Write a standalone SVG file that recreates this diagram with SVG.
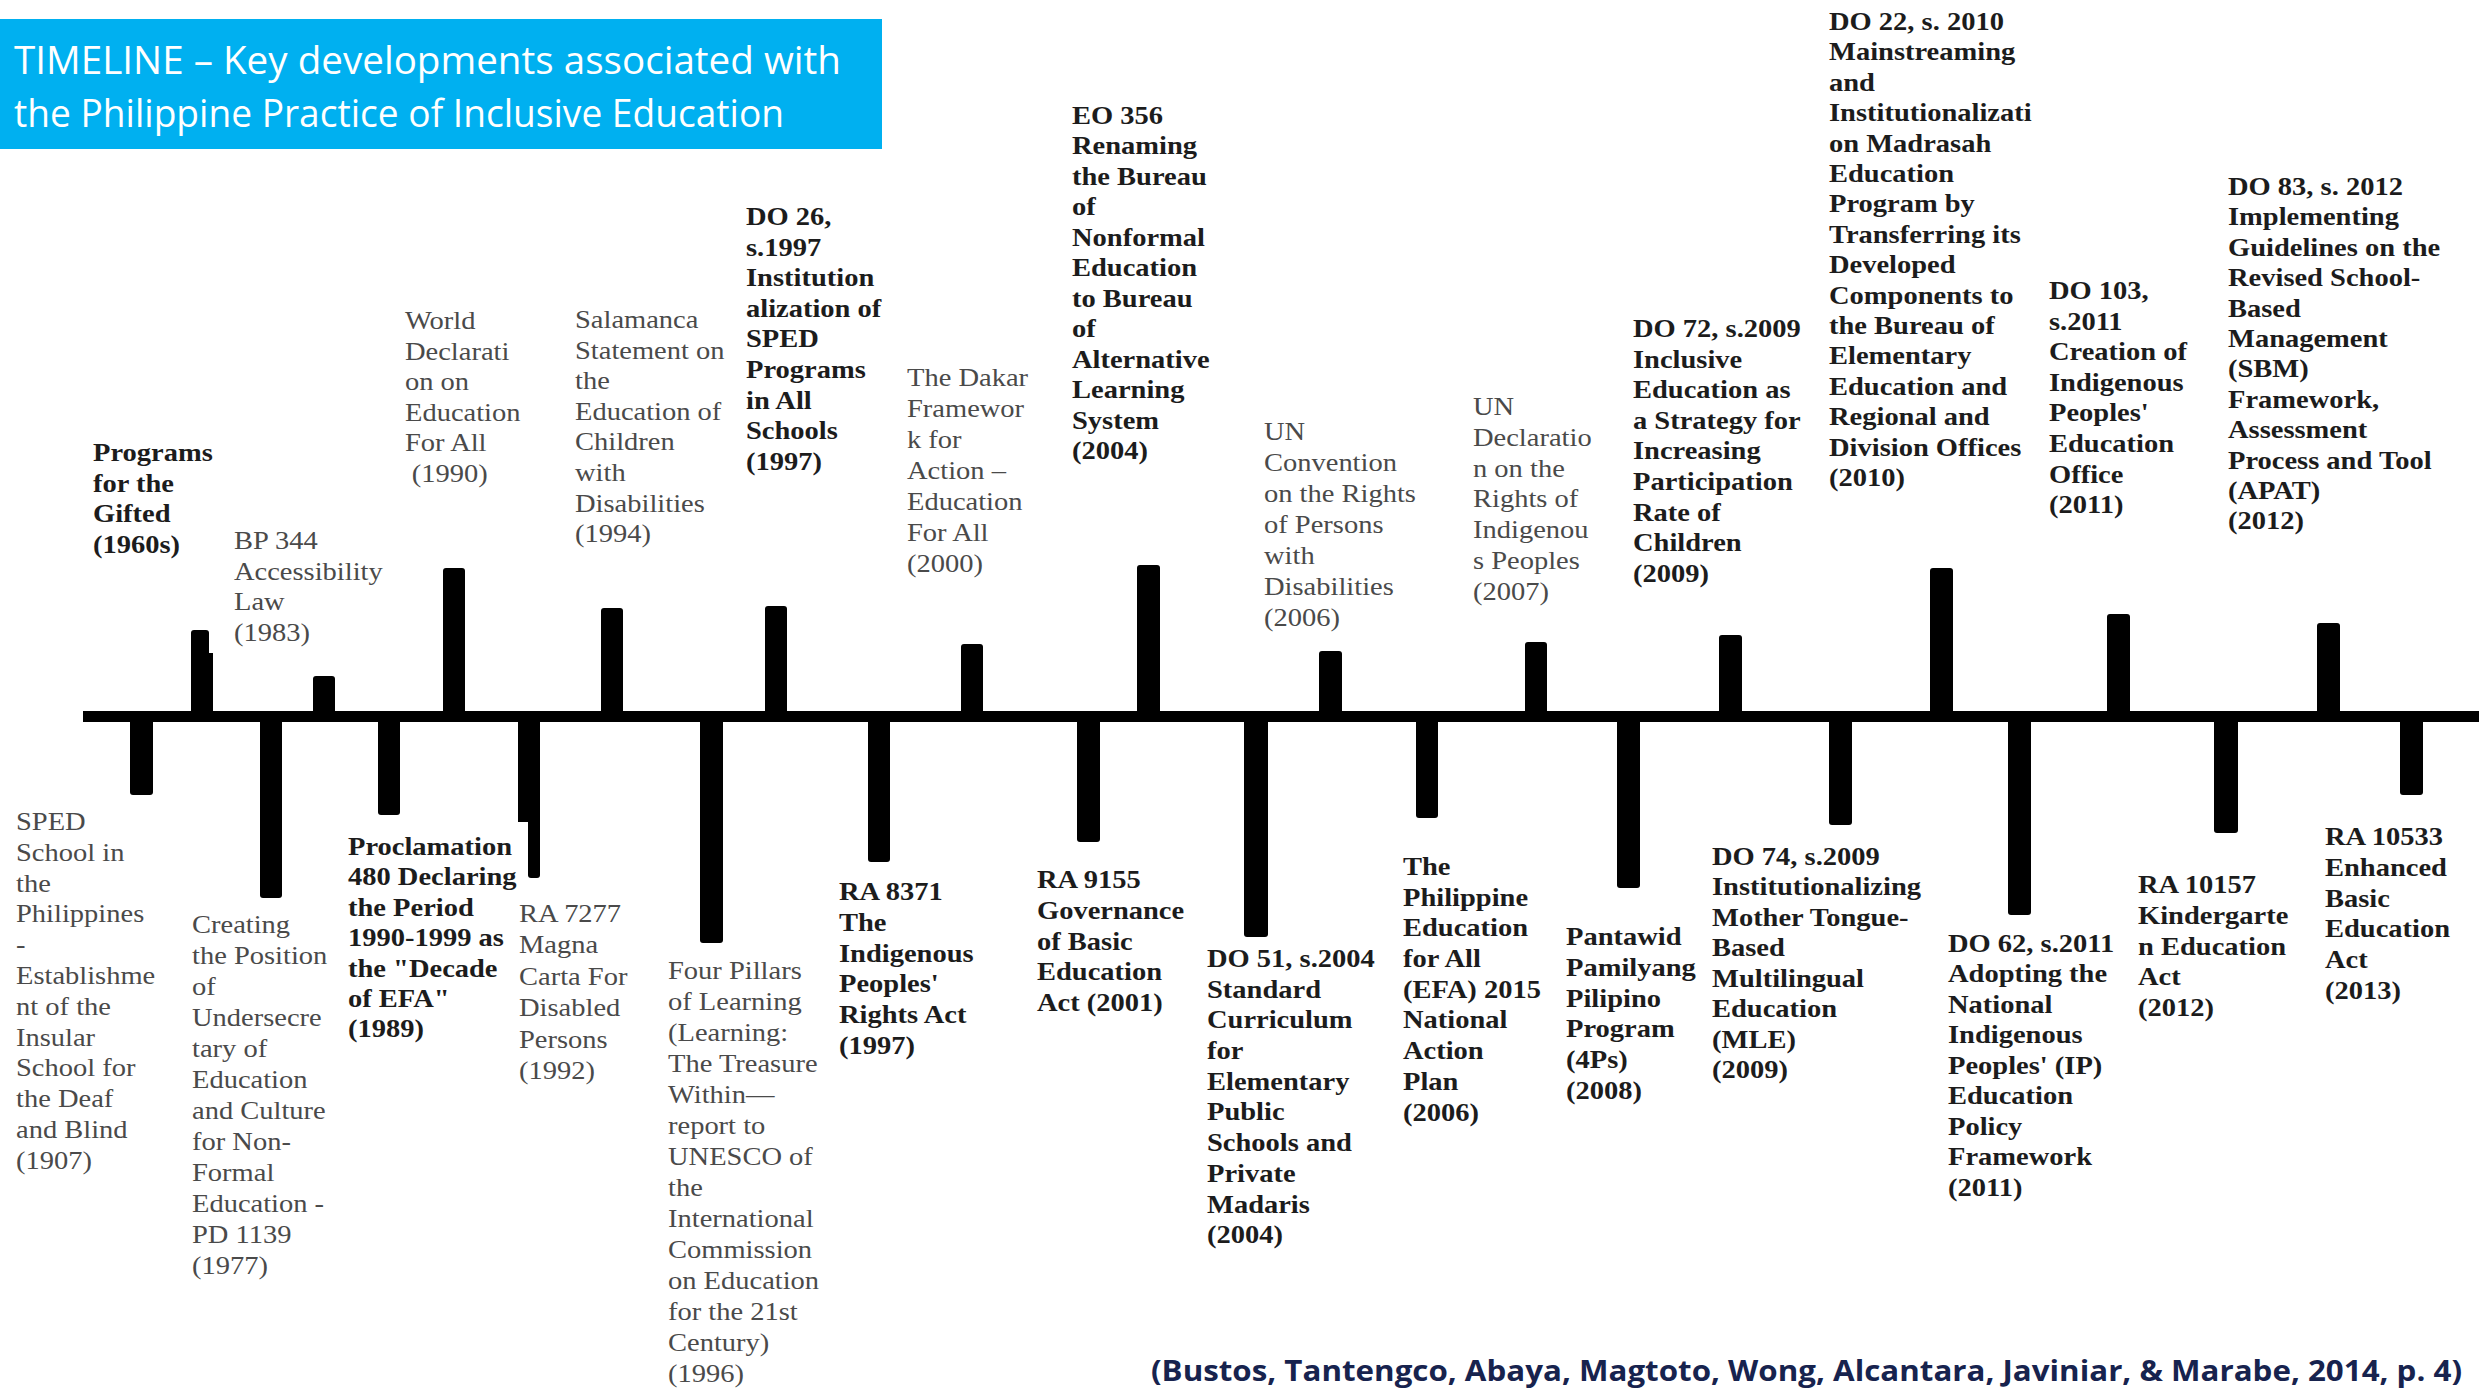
<svg xmlns="http://www.w3.org/2000/svg" width="2483" height="1397" viewBox="0 0 2483 1397">
  <style>
    .tick { fill: #000; }
    .r { font-family: "Liberation Serif", "Times New Roman", serif; font-size: 25px; fill: #4a4a4a; }
    .b { font-family: "Liberation Serif", "Times New Roman", serif; font-size: 25px; font-weight: bold; fill: #1c1c1c; }
    .title { font-family: "Open Sans", "Noto Sans", sans-serif; font-size: 39px; fill: #fff; }
    .cite { font-family: "Open Sans", "Noto Sans", sans-serif; font-size: 29px; font-weight: bold; fill: #17234e; }
  </style>
  <rect width="2483" height="1397" fill="#fff"/>

  <!-- heading banner -->
  <g id="heading">
    <rect x="0" y="19" width="882" height="130" fill="#00b0f0"/>
    <text class="title" x="14" y="74" textLength="827" lengthAdjust="spacingAndGlyphs">TIMELINE – Key developments associated with</text>
    <text class="title" x="14" y="127" textLength="770" lengthAdjust="spacingAndGlyphs">the Philippine Practice of Inclusive Education</text>
  </g>

  <!-- time axis -->
  <g id="connectors">
    <rect class="tick" x="83" y="711" width="2396" height="11"/>
  </g>

  <!-- events above the axis -->
  <g id="gifted">
    <rect class="tick" x="191" y="630" width="18" height="86" rx="3"/>
    <rect class="tick" x="191" y="653" width="22" height="63"/>
    <text class="b" transform="translate(93,461) scale(1.14,1)"><tspan x="0" y="0">Programs</tspan><tspan x="0" dy="30.6">for the</tspan><tspan x="0" dy="30.6">Gifted</tspan><tspan x="0" dy="30.6">(1960s)</tspan></text>
  </g>
  <g id="bp344">
    <rect class="tick" x="313" y="676" width="22" height="40" rx="3"/>
    <text class="r" transform="translate(234,549) scale(1.14,1)"><tspan x="0" y="0">BP 344</tspan><tspan x="0" dy="30.6">Accessibility</tspan><tspan x="0" dy="30.6">Law</tspan><tspan x="0" dy="30.6">(1983)</tspan></text>
  </g>
  <g id="world-declaration">
    <rect class="tick" x="443" y="568" width="22" height="148" rx="3"/>
    <text class="r" transform="translate(405,329) scale(1.14,1)"><tspan x="0" y="0">World</tspan><tspan x="0" dy="30.6">Declarati</tspan><tspan x="0" dy="30.6">on on</tspan><tspan x="0" dy="30.6">Education</tspan><tspan x="0" dy="30.6">For All</tspan><tspan x="6" dy="30.6">(1990)</tspan></text>
  </g>
  <g id="salamanca">
    <rect class="tick" x="601" y="608" width="22" height="108" rx="3"/>
    <text class="r" transform="translate(575,328) scale(1.14,1)"><tspan x="0" y="0">Salamanca</tspan><tspan x="0" dy="30.6">Statement on</tspan><tspan x="0" dy="30.6">the</tspan><tspan x="0" dy="30.6">Education of</tspan><tspan x="0" dy="30.6">Children</tspan><tspan x="0" dy="30.6">with</tspan><tspan x="0" dy="30.6">Disabilities</tspan><tspan x="0" dy="30.6">(1994)</tspan></text>
  </g>
  <g id="do26">
    <rect class="tick" x="765" y="606" width="22" height="110" rx="3"/>
    <text class="b" transform="translate(746,225) scale(1.14,1)"><tspan x="0" y="0">DO 26,</tspan><tspan x="0" dy="30.6">s.1997</tspan><tspan x="0" dy="30.6">Institution</tspan><tspan x="0" dy="30.6">alization of</tspan><tspan x="0" dy="30.6">SPED</tspan><tspan x="0" dy="30.6">Programs</tspan><tspan x="0" dy="30.6">in All</tspan><tspan x="0" dy="30.6">Schools</tspan><tspan x="0" dy="30.6">(1997)</tspan></text>
  </g>
  <g id="dakar">
    <rect class="tick" x="961" y="644" width="22" height="72" rx="3"/>
    <text class="r" transform="translate(907,386) scale(1.14,1)"><tspan x="0" y="0">The Dakar</tspan><tspan x="0" dy="31">Framewor</tspan><tspan x="0" dy="31">k for</tspan><tspan x="0" dy="31">Action –</tspan><tspan x="0" dy="31">Education</tspan><tspan x="0" dy="31">For All</tspan><tspan x="0" dy="31">(2000)</tspan></text>
  </g>
  <g id="eo356">
    <rect class="tick" x="1137" y="565" width="23" height="151" rx="3"/>
    <text class="b" transform="translate(1072,124) scale(1.14,1)"><tspan x="0" y="0">EO 356</tspan><tspan x="0" dy="30.5">Renaming</tspan><tspan x="0" dy="30.5">the Bureau</tspan><tspan x="0" dy="30.5">of</tspan><tspan x="0" dy="30.5">Nonformal</tspan><tspan x="0" dy="30.5">Education</tspan><tspan x="0" dy="30.5">to Bureau</tspan><tspan x="0" dy="30.5">of</tspan><tspan x="0" dy="30.5">Alternative</tspan><tspan x="0" dy="30.5">Learning</tspan><tspan x="0" dy="30.5">System</tspan><tspan x="0" dy="30.5">(2004)</tspan></text>
  </g>
  <g id="un-crpd">
    <rect class="tick" x="1319" y="651" width="23" height="65" rx="3"/>
    <text class="r" transform="translate(1264,440) scale(1.14,1)"><tspan x="0" y="0">UN</tspan><tspan x="0" dy="31">Convention</tspan><tspan x="0" dy="31">on the Rights</tspan><tspan x="0" dy="31">of Persons</tspan><tspan x="0" dy="31">with</tspan><tspan x="0" dy="31">Disabilities</tspan><tspan x="0" dy="31">(2006)</tspan></text>
  </g>
  <g id="un-drip">
    <rect class="tick" x="1525" y="642" width="22" height="74" rx="3"/>
    <text class="r" transform="translate(1473,415) scale(1.14,1)"><tspan x="0" y="0">UN</tspan><tspan x="0" dy="30.8">Declaratio</tspan><tspan x="0" dy="30.8">n on the</tspan><tspan x="0" dy="30.8">Rights of</tspan><tspan x="0" dy="30.8">Indigenou</tspan><tspan x="0" dy="30.8">s Peoples</tspan><tspan x="0" dy="30.8">(2007)</tspan></text>
  </g>
  <g id="do72">
    <rect class="tick" x="1719" y="635" width="23" height="81" rx="3"/>
    <text class="b" transform="translate(1633,337) scale(1.14,1)"><tspan x="0" y="0">DO 72, s.2009</tspan><tspan x="0" dy="30.6">Inclusive</tspan><tspan x="0" dy="30.6">Education as</tspan><tspan x="0" dy="30.6">a Strategy for</tspan><tspan x="0" dy="30.6">Increasing</tspan><tspan x="0" dy="30.6">Participation</tspan><tspan x="0" dy="30.6">Rate of</tspan><tspan x="0" dy="30.6">Children</tspan><tspan x="0" dy="30.6">(2009)</tspan></text>
  </g>
  <g id="do22">
    <rect class="tick" x="1930" y="568" width="23" height="148" rx="3"/>
    <text class="b" transform="translate(1829,30) scale(1.14,1)"><tspan x="0" y="0">DO 22, s. 2010</tspan><tspan x="0" dy="30.4">Mainstreaming</tspan><tspan x="0" dy="30.4">and</tspan><tspan x="0" dy="30.4">Institutionalizati</tspan><tspan x="0" dy="30.4">on Madrasah</tspan><tspan x="0" dy="30.4">Education</tspan><tspan x="0" dy="30.4">Program by</tspan><tspan x="0" dy="30.4">Transferring its</tspan><tspan x="0" dy="30.4">Developed</tspan><tspan x="0" dy="30.4">Components to</tspan><tspan x="0" dy="30.4">the Bureau of</tspan><tspan x="0" dy="30.4">Elementary</tspan><tspan x="0" dy="30.4">Education and</tspan><tspan x="0" dy="30.4">Regional and</tspan><tspan x="0" dy="30.4">Division Offices</tspan><tspan x="0" dy="30.4">(2010)</tspan></text>
  </g>
  <g id="do103">
    <rect class="tick" x="2107" y="614" width="23" height="102" rx="3"/>
    <text class="b" transform="translate(2049,299) scale(1.14,1)"><tspan x="0" y="0">DO 103,</tspan><tspan x="0" dy="30.6">s.2011</tspan><tspan x="0" dy="30.6">Creation of</tspan><tspan x="0" dy="30.6">Indigenous</tspan><tspan x="0" dy="30.6">Peoples'</tspan><tspan x="0" dy="30.6">Education</tspan><tspan x="0" dy="30.6">Office</tspan><tspan x="0" dy="30.6">(2011)</tspan></text>
  </g>
  <g id="do83">
    <rect class="tick" x="2317" y="623" width="23" height="93" rx="3"/>
    <text class="b" transform="translate(2228,195) scale(1.14,1)"><tspan x="0" y="0">DO 83, s. 2012</tspan><tspan x="0" dy="30.4">Implementing</tspan><tspan x="0" dy="30.4">Guidelines on the</tspan><tspan x="0" dy="30.4">Revised School-</tspan><tspan x="0" dy="30.4">Based</tspan><tspan x="0" dy="30.4">Management</tspan><tspan x="0" dy="30.4">(SBM)</tspan><tspan x="0" dy="30.4">Framework,</tspan><tspan x="0" dy="30.4">Assessment</tspan><tspan x="0" dy="30.4">Process and Tool</tspan><tspan x="0" dy="30.4">(APAT)</tspan><tspan x="0" dy="30.4">(2012)</tspan></text>
  </g>

  <!-- events below the axis -->
  <g id="sped-school">
    <rect class="tick" x="130" y="716" width="23" height="79" rx="3"/>
    <text class="r" transform="translate(16,830) scale(1.14,1)"><tspan x="0" y="0">SPED</tspan><tspan x="0" dy="30.8">School in</tspan><tspan x="0" dy="30.8">the</tspan><tspan x="0" dy="30.8">Philippines</tspan><tspan x="0" dy="30.8">-</tspan><tspan x="0" dy="30.8">Establishme</tspan><tspan x="0" dy="30.8">nt of the</tspan><tspan x="0" dy="30.8">Insular</tspan><tspan x="0" dy="30.8">School for</tspan><tspan x="0" dy="30.8">the Deaf</tspan><tspan x="0" dy="30.8">and Blind</tspan><tspan x="0" dy="30.8">(1907)</tspan></text>
  </g>
  <g id="pd1139">
    <rect class="tick" x="260" y="716" width="22" height="182" rx="3"/>
    <text class="r" transform="translate(192,933) scale(1.14,1)"><tspan x="0" y="0">Creating</tspan><tspan x="0" dy="31">the Position</tspan><tspan x="0" dy="31">of</tspan><tspan x="0" dy="31">Undersecre</tspan><tspan x="0" dy="31">tary of</tspan><tspan x="0" dy="31">Education</tspan><tspan x="0" dy="31">and Culture</tspan><tspan x="0" dy="31">for Non-</tspan><tspan x="0" dy="31">Formal</tspan><tspan x="0" dy="31">Education -</tspan><tspan x="0" dy="31">PD 1139</tspan><tspan x="0" dy="31">(1977)</tspan></text>
  </g>
  <g id="proclamation480">
    <rect class="tick" x="378" y="716" width="22" height="99" rx="3"/>
    <text class="b" transform="translate(348,855) scale(1.14,1)"><tspan x="0" y="0">Proclamation</tspan><tspan x="0" dy="30.4">480 Declaring</tspan><tspan x="0" dy="30.4">the Period</tspan><tspan x="0" dy="30.4">1990-1999 as</tspan><tspan x="0" dy="30.4">the &quot;Decade</tspan><tspan x="0" dy="30.4">of EFA&quot;</tspan><tspan x="0" dy="30.4">(1989)</tspan></text>
  </g>
  <g id="ra7277">
    <rect class="tick" x="518" y="716" width="22" height="106"/>
    <rect class="tick" x="528" y="716" width="12" height="162" rx="3"/>
    <text class="r" transform="translate(519,922) scale(1.14,1)"><tspan x="0" y="0">RA 7277</tspan><tspan x="0" dy="31.4">Magna</tspan><tspan x="0" dy="31.4">Carta For</tspan><tspan x="0" dy="31.4">Disabled</tspan><tspan x="0" dy="31.4">Persons</tspan><tspan x="0" dy="31.4">(1992)</tspan></text>
  </g>
  <g id="four-pillars">
    <rect class="tick" x="700" y="716" width="23" height="227" rx="3"/>
    <text class="r" transform="translate(668,979) scale(1.14,1)"><tspan x="0" y="0">Four Pillars</tspan><tspan x="0" dy="31">of Learning</tspan><tspan x="0" dy="31">(Learning:</tspan><tspan x="0" dy="31">The Treasure</tspan><tspan x="0" dy="31">Within—</tspan><tspan x="0" dy="31">report to</tspan><tspan x="0" dy="31">UNESCO of</tspan><tspan x="0" dy="31">the</tspan><tspan x="0" dy="31">International</tspan><tspan x="0" dy="31">Commission</tspan><tspan x="0" dy="31">on Education</tspan><tspan x="0" dy="31">for the 21st</tspan><tspan x="0" dy="31">Century)</tspan><tspan x="0" dy="31">(1996)</tspan></text>
  </g>
  <g id="ra8371">
    <rect class="tick" x="868" y="716" width="22" height="146" rx="3"/>
    <text class="b" transform="translate(839,900) scale(1.14,1)"><tspan x="0" y="0">RA 8371</tspan><tspan x="0" dy="30.8">The</tspan><tspan x="0" dy="30.8">Indigenous</tspan><tspan x="0" dy="30.8">Peoples'</tspan><tspan x="0" dy="30.8">Rights Act</tspan><tspan x="0" dy="30.8">(1997)</tspan></text>
  </g>
  <g id="ra9155">
    <rect class="tick" x="1077" y="716" width="23" height="126" rx="3"/>
    <text class="b" transform="translate(1037,888) scale(1.14,1)"><tspan x="0" y="0">RA 9155</tspan><tspan x="0" dy="30.8">Governance</tspan><tspan x="0" dy="30.8">of Basic</tspan><tspan x="0" dy="30.8">Education</tspan><tspan x="0" dy="30.8">Act (2001)</tspan></text>
  </g>
  <g id="do51">
    <rect class="tick" x="1244" y="716" width="24" height="221" rx="3"/>
    <text class="b" transform="translate(1207,967) scale(1.14,1)"><tspan x="0" y="0">DO 51, s.2004</tspan><tspan x="0" dy="30.7">Standard</tspan><tspan x="0" dy="30.7">Curriculum</tspan><tspan x="0" dy="30.7">for</tspan><tspan x="0" dy="30.7">Elementary</tspan><tspan x="0" dy="30.7">Public</tspan><tspan x="0" dy="30.7">Schools and</tspan><tspan x="0" dy="30.7">Private</tspan><tspan x="0" dy="30.7">Madaris</tspan><tspan x="0" dy="30.7">(2004)</tspan></text>
  </g>
  <g id="efa-2015">
    <rect class="tick" x="1416" y="716" width="22" height="102" rx="3"/>
    <text class="b" transform="translate(1403,875) scale(1.14,1)"><tspan x="0" y="0">The</tspan><tspan x="0" dy="30.7">Philippine</tspan><tspan x="0" dy="30.7">Education</tspan><tspan x="0" dy="30.7">for All</tspan><tspan x="0" dy="30.7">(EFA) 2015</tspan><tspan x="0" dy="30.7">National</tspan><tspan x="0" dy="30.7">Action</tspan><tspan x="0" dy="30.7">Plan</tspan><tspan x="0" dy="30.7">(2006)</tspan></text>
  </g>
  <g id="pantawid">
    <rect class="tick" x="1617" y="716" width="23" height="172" rx="3"/>
    <text class="b" transform="translate(1566,945) scale(1.14,1)"><tspan x="0" y="0">Pantawid</tspan><tspan x="0" dy="30.8">Pamilyang</tspan><tspan x="0" dy="30.8">Pilipino</tspan><tspan x="0" dy="30.8">Program</tspan><tspan x="0" dy="30.8">(4Ps)</tspan><tspan x="0" dy="30.8">(2008)</tspan></text>
  </g>
  <g id="do74">
    <rect class="tick" x="1829" y="716" width="23" height="109" rx="3"/>
    <text class="b" transform="translate(1712,865) scale(1.14,1)"><tspan x="0" y="0">DO 74, s.2009</tspan><tspan x="0" dy="30.5">Institutionalizing</tspan><tspan x="0" dy="30.5">Mother Tongue-</tspan><tspan x="0" dy="30.5">Based</tspan><tspan x="0" dy="30.5">Multilingual</tspan><tspan x="0" dy="30.5">Education</tspan><tspan x="0" dy="30.5">(MLE)</tspan><tspan x="0" dy="30.5">(2009)</tspan></text>
  </g>
  <g id="do62">
    <rect class="tick" x="2008" y="716" width="23" height="199" rx="3"/>
    <text class="b" transform="translate(1948,952) scale(1.14,1)"><tspan x="0" y="0">DO 62, s.2011</tspan><tspan x="0" dy="30.5">Adopting the</tspan><tspan x="0" dy="30.5">National</tspan><tspan x="0" dy="30.5">Indigenous</tspan><tspan x="0" dy="30.5">Peoples' (IP)</tspan><tspan x="0" dy="30.5">Education</tspan><tspan x="0" dy="30.5">Policy</tspan><tspan x="0" dy="30.5">Framework</tspan><tspan x="0" dy="30.5">(2011)</tspan></text>
  </g>
  <g id="ra10157">
    <rect class="tick" x="2214" y="716" width="24" height="117" rx="3"/>
    <text class="b" transform="translate(2138,893) scale(1.14,1)"><tspan x="0" y="0">RA 10157</tspan><tspan x="0" dy="30.8">Kindergarte</tspan><tspan x="0" dy="30.8">n Education</tspan><tspan x="0" dy="30.8">Act</tspan><tspan x="0" dy="30.8">(2012)</tspan></text>
  </g>
  <g id="ra10533">
    <rect class="tick" x="2400" y="716" width="23" height="79" rx="3"/>
    <text class="b" transform="translate(2325,845) scale(1.14,1)"><tspan x="0" y="0">RA 10533</tspan><tspan x="0" dy="30.8">Enhanced</tspan><tspan x="0" dy="30.8">Basic</tspan><tspan x="0" dy="30.8">Education</tspan><tspan x="0" dy="30.8">Act</tspan><tspan x="0" dy="30.8">(2013)</tspan></text>
  </g>

  <!-- source line -->
  <g id="citation">
    <text class="cite" x="1151" y="1381" textLength="1311" lengthAdjust="spacingAndGlyphs">(Bustos, Tantengco, Abaya, Magtoto, Wong, Alcantara, Javiniar, &amp; Marabe, 2014, p. 4)</text>
  </g>
</svg>
